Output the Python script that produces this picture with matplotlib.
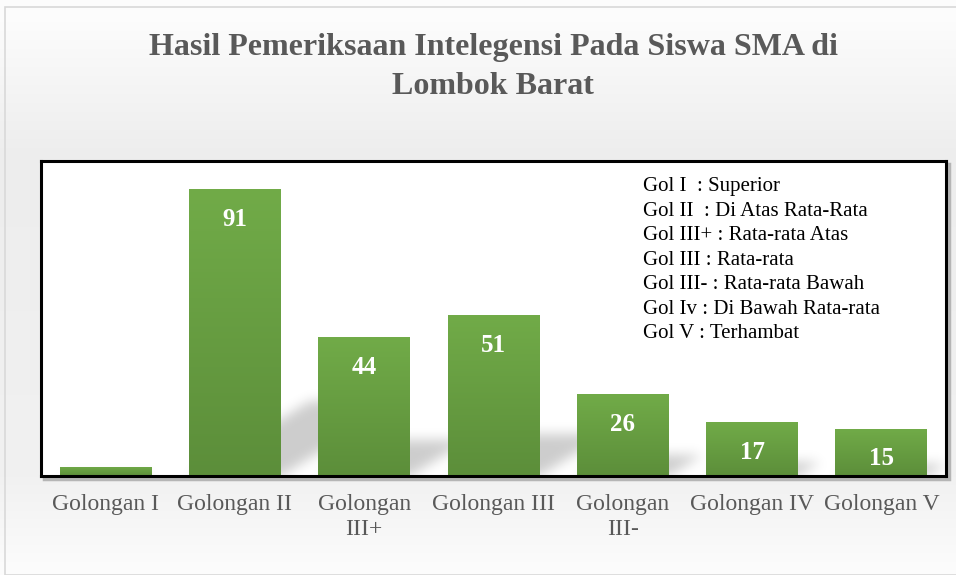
import numpy as np
import matplotlib.pyplot as plt
from matplotlib.patches import Rectangle

categories = ['Golongan I', 'Golongan II', 'Golongan\nIII+', 'Golongan III',
              'Golongan\nIII-', 'Golongan IV', 'Golongan V']
values = [3, 91, 44, 51, 26, 17, 15]
labels = ['', '91', '44', '51', '26', '17', '15']
legend_lines = ['Gol I  : Superior',
                'Gol II  : Di Atas Rata-Rata',
                'Gol III+ : Rata-rata Atas',
                'Gol III : Rata-rata',
                'Gol III- : Rata-rata Bawah',
                'Gol Iv : Di Bawah Rata-rata',
                'Gol V : Terhambat']
title = 'Hasil Pemeriksaan Intelegensi Pada Siswa SMA di\nLombok Barat'

plt.rcParams['font.family'] = ['Liberation Serif', 'DejaVu Serif']

W, H = 956, 575
fig = plt.figure(figsize=(W / 100, H / 100), dpi=100)

# background gradient of the chart area
bg = fig.add_axes([0, 0, 1, 1], zorder=-10)
bg.set_axis_off()
yy = np.linspace(0, 1, 300)[:, None]  # 0 = top
shade = np.interp(yy, [0, 0.03, 0.27, 0.83, 1.0], [0.99, 0.99, 0.93, 0.945, 0.99])
img = np.repeat(shade, 10, axis=1)
bg.imshow(np.dstack([img, img, img]), aspect='auto', extent=[0, 1, 0, 1],
          origin='upper')
bg.set_xlim(0, 1)
bg.set_ylim(0, 1)
bg.add_patch(Rectangle((5 / W, 0), 1, 1 - 7 / H, fill=False,
                       edgecolor='#d9d9d9', lw=1.2))

fig.text(0.516, 1 - 67 / H, title, ha='center', va='center', fontsize=23,
         fontweight='bold', color='#595959', linespacing=1.45)

x0, x1, y0, y1 = 41, 946, 161, 476
# soft shadow of the plot frame
bg.add_patch(Rectangle(((x0 + 3) / W, 1 - (y1 + 3) / H), (x1 - x0) / W, (y1 - y0) / H,
                       fill=False, edgecolor='#b5b5b5', lw=2.5))

ax = fig.add_axes([x0 / W, 1 - y1 / H, (x1 - x0) / W, (y1 - y0) / H])
ax.set_facecolor('white')
x = np.arange(len(values))
width = 0.71

# blurred perspective shadows behind the bars
pw, ph = x1 - x0, y1 - y0
sx = pw / len(values)
sy = ph / 100
a, b = 0.42, 0.26
X, Y = np.meshgrid(np.arange(pw) + 0.5, np.arange(ph) + 0.5)
mask = np.zeros((ph, pw))
for xi, v in zip(x, values):
    xl = (xi + 0.5 - width / 2) * sx
    xr = (xi + 0.5 + width / 2) * sx
    t = Y / b
    inside = (X >= xl + a * t) & (X <= xr + a * t) & (t <= v * sy)
    mask[inside] = 1.0
k = np.exp(-0.5 * (np.arange(-18, 19) / 6.0) ** 2)
k /= k.sum()
pad = np.pad(mask, 18, mode='constant')
pad = np.apply_along_axis(lambda r: np.convolve(r, k, mode='same'), 1, pad)
pad = np.apply_along_axis(lambda c: np.convolve(c, k, mode='same'), 0, pad)
mask = pad[18:-18, 18:-18]
shadow = np.zeros((ph, pw, 4))
shadow[..., 3] = mask * 0.2
ax.imshow(shadow, origin='lower', aspect='auto', zorder=1,
          extent=[-0.5, len(values) - 0.5, 0, 100])

bars = ax.bar(x, values, width=width, color='#68a042', zorder=3)

# vertical green gradient on each bar
grad = np.linspace(0, 1, 100)[:, None]
top = np.array([0x71, 0xab, 0x48]) / 255
bot = np.array([0x5c, 0x8e, 0x3a]) / 255
gimg = top[None, None, :] * (1 - grad[:, :, None]) + bot[None, None, :] * grad[:, :, None]
for bar in bars:
    im = ax.imshow(gimg, aspect='auto', zorder=4,
                   extent=[bar.get_x(), bar.get_x() + bar.get_width(), 0, bar.get_height()])
    im.set_clip_path(bar)
ax.set_xlim(-0.5, len(values) - 0.5)
ax.set_ylim(0, 100)

for bar, lab in zip(bars, labels):
    if lab:
        ax.annotate(lab, (bar.get_x() + bar.get_width() / 2, bar.get_height()),
                    xytext=(0, -30 * 0.72), textcoords='offset points',
                    ha='center', va='center', fontsize=18, fontweight='bold',
                    color='white', zorder=5)

ax.set_xticks(x)
ax.set_xticklabels(categories, fontsize=17, color='#595959', linespacing=1.25,
                   va='top')
ax.tick_params(axis='x', length=0, pad=13)
ax.set_yticks([])
for s in ax.spines.values():
    s.set_linewidth(2.2)
    s.set_color('black')
    s.set_zorder(6)

for i, line in enumerate(legend_lines):
    fig.text(643 / W, 1 - (186.5 + i * 24.5) / H, line, ha='left', va='center',
             fontsize=15, color='black')

fig.savefig('out.png', dpi=100)
